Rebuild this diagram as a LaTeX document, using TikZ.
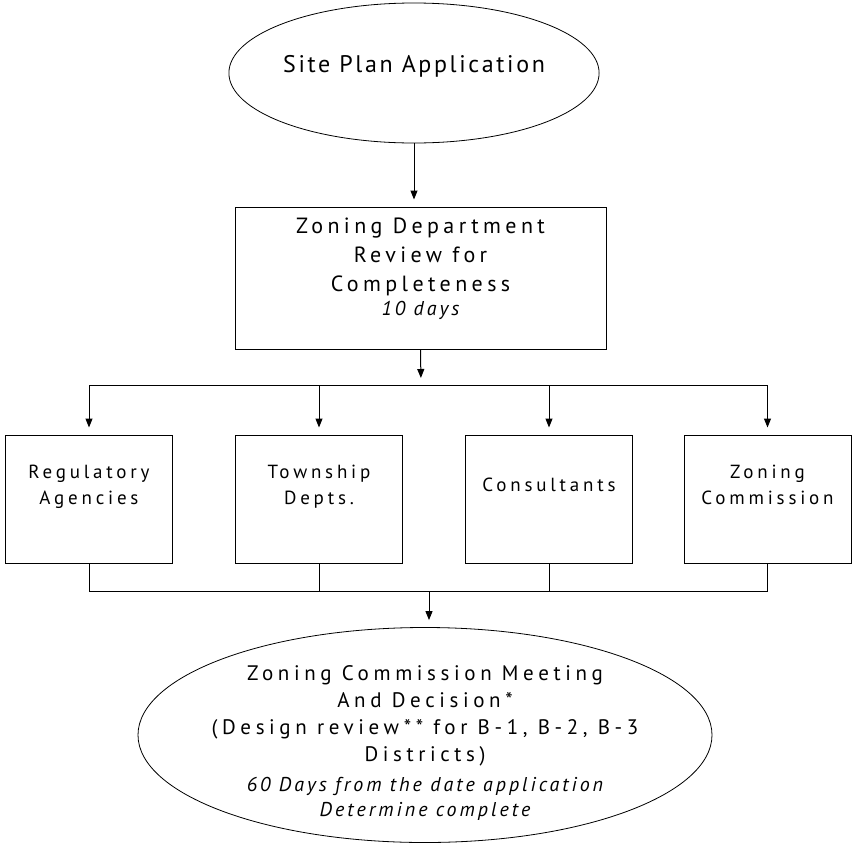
\documentclass[tikz,border=0pt]{standalone}
\usepackage{fontspec}
\setmainfont{PT Sans}
\newfontfamily\sitefont[LetterSpace=11]{PT Sans}
\newfontfamily\flowfont[LetterSpace=20]{PT Sans}
\newfontfamily\meetfont[LetterSpace=22]{PT Sans}
\newcommand\daysnote{\itshape\addfontfeature{LetterSpace=15}}
\usetikzlibrary{shapes.geometric,arrows.meta}

\tikzset{
  oval/.style={ellipse, draw, line width=0.8pt, inner sep=0pt, align=center},
  stage/.style={rectangle, draw, line width=1pt, inner sep=0pt, align=center},
  office/.style={stage, minimum width=167pt, minimum height=128pt, text depth=28pt,
    font=\flowfont\fontsize{19}{26}\selectfont},
  flow/.style={line width=1pt, -{Triangle[width=7pt,length=9pt]}, shorten >=7pt},
  link/.style={line width=1pt}
}

\begin{document}
\begin{tikzpicture}[x=1pt,y=-1pt]
\useasboundingbox (0,0) rectangle (852,844);

\node[oval, minimum width=368pt, minimum height=140pt, text depth=18pt,
  font=\sitefont\fontsize{24}{30}\selectfont] (site) at (414,73) {Site Plan Application};
\node[stage, minimum width=371pt, minimum height=142pt, text depth=22pt,
  font=\flowfont\fontsize{22}{29}\selectfont] (review) at (420.5,278)
  {Zoning Department\\Review for\\Completeness\\[-5pt]\fontsize{20}{24}\selectfont\daysnote 10 days};

\node[office] (reg) at (89,499) {Regulatory\\Agencies};
\node[office] (tow) at (319,499) {Township\\Depts.};
\node[office] (con) at (549,499) {Consultants};
\node[office] (zon) at (767.5,499) {Zoning\\Commission};

\node[oval, minimum width=574pt, minimum height=215pt, inner xsep=-40pt, inner ysep=-20pt,
  text height=163pt, text depth=0pt,
  font=\meetfont\fontsize{21}{27}\selectfont] (decision) at (425,735)
  {Zoning Commission Meeting\\And Decision*\\(Design review** for B-1, B-2, B-3\\Districts)\\[3pt]
   \fontsize{20}{25}\selectfont\daysnote 60 Days from the date application\\[-2pt]
   \fontsize{20}{25}\selectfont\daysnote Determine complete};

\coordinate (split) at (421,385);
\coordinate (join) at (429,591);

% top part
\draw[flow] (site.south) -- (site.south |- review.north);
\draw[flow] (review.south) -- (split);
\draw[link] (reg.north |- split) -- (zon.north |- split);

% to the offices and back
\foreach \b in {reg,tow,con,zon} {
  \draw[flow] (\b.north |- split) -- (\b.north);
  \draw[link] (\b.south) -- (\b.south |- join);
}
\draw[link] (reg.south |- join) -- (zon.south |- join);
\draw[flow] (join) -- (join |- decision.north);

\end{tikzpicture}
\end{document}
